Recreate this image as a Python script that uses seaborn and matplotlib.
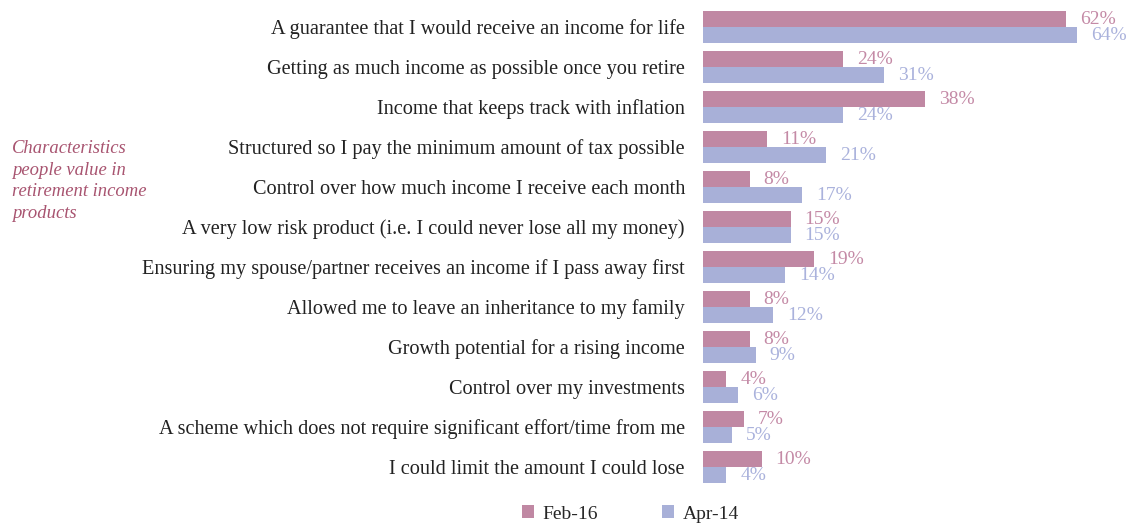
import matplotlib
matplotlib.use("Agg")
import matplotlib.pyplot as plt
import seaborn as sns
import pandas as pd
from matplotlib.patches import Patch

categories = [
    "A guarantee that I would receive an income for life",
    "Getting as much income as possible once you retire",
    "Income that keeps track with inflation",
    "Structured so I pay the minimum amount of tax possible",
    "Control over how much income I receive each month",
    "A very low risk product (i.e. I could never lose all my money)",
    "Ensuring my spouse/partner receives an income if I pass away first",
    "Allowed me to leave an inheritance to my family",
    "Growth potential for a rising income",
    "Control over my investments",
    "A scheme which does not require significant effort/time from me",
    "I could limit the amount I could lose",
]
feb16 = [62, 24, 38, 11, 8, 15, 19, 8, 8, 4, 7, 10]
apr14 = [64, 31, 24, 21, 17, 15, 14, 12, 9, 6, 5, 4]
series_names = ["Feb-16", "Apr-14"]

bar_colors = ["#C088A3", "#A8B0D8"]
label_colors = ["#C48AA6", "#AAB2DC"]

df = pd.DataFrame({
    "category": categories * 2,
    "value": feb16 + apr14,
    "series": [series_names[0]] * len(categories) + [series_names[1]] * len(categories),
})

sns.set_theme(style="white")
plt.rcParams["font.family"] = ["Liberation Serif", "DejaVu Serif"]

fig = plt.figure(figsize=(11.36, 5.24), dpi=100)
ax = fig.add_axes([703 / 1136, 1 - 487 / 524, 1 - 703 / 1136, (487 - 7) / 524])

sns.barplot(data=df, y="category", x="value", hue="series", hue_order=series_names,
            order=categories, palette=bar_colors, orient="h", width=0.8,
            saturation=1, ax=ax, legend=False, linewidth=0, edgecolor="none")

for cont, col in zip(ax.containers, label_colors):
    ax.bar_label(cont, labels=[f"{int(v)}%" for v in cont.datavalues],
                 padding=10, color=col, fontsize=14)

ax.set_xlim(0, 74)
ax.set_ylim(len(categories) - 0.5, -0.5)
ax.set_xlabel("")
ax.set_ylabel("")
ax.set_xticks([])
ax.tick_params(axis="y", length=0, pad=13, labelsize=14.6, labelcolor="#222222")
for s in ax.spines.values():
    s.set_visible(False)

fig.text(12 / 1136, 1 - 181 / 524,
         "Characteristics\npeople value in\nretirement income\nproducts",
         ha="left", va="center", fontsize=13.4, style="italic", color="#A85470",
         linespacing=1.38)

handles = [Patch(facecolor=c, edgecolor="none") for c in bar_colors]
fig.legend(handles, series_names, loc="center", bbox_to_anchor=(0.555, 1 - 514 / 524),
           ncol=2, frameon=False, fontsize=14, handlelength=0.62, handleheight=0.62,
           columnspacing=3.3, handletextpad=0.45)

fig.savefig("out.png", dpi=100)
